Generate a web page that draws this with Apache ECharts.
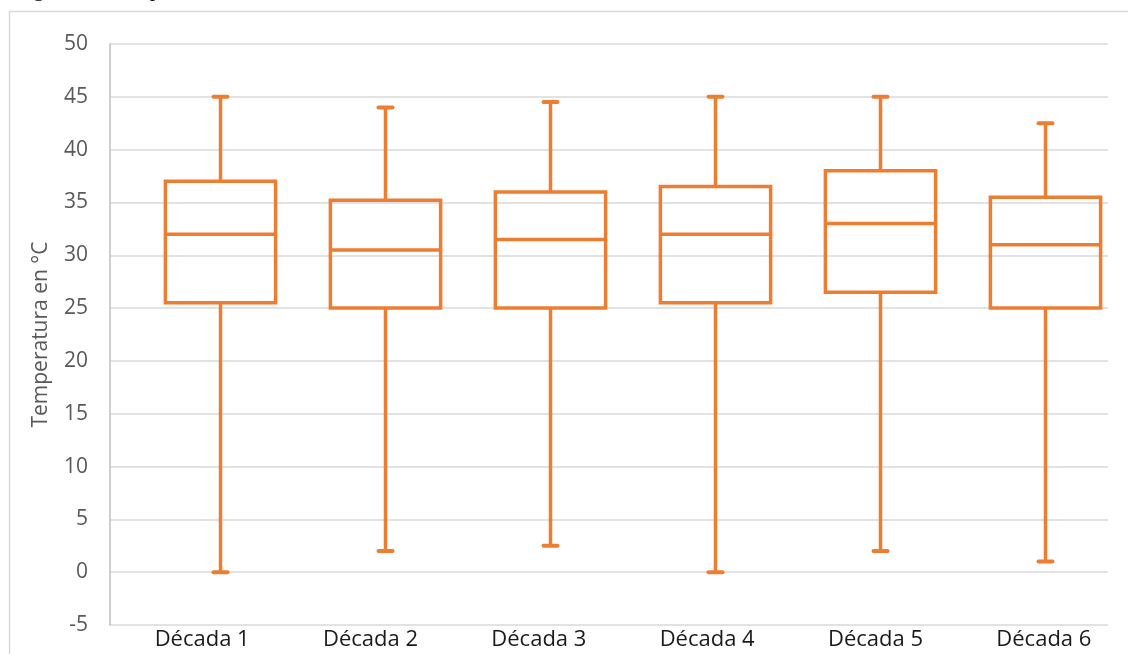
<!DOCTYPE html>
<html>
<head>
<meta charset="utf-8">
<script src="https://cdn.jsdelivr.net/npm/echarts@6/dist/echarts.min.js"></script>
<style>
  html, body { margin: 0; padding: 0; background: #ffffff; }
  #chart { width: 1128px; height: 654px; }
</style>
</head>
<body>
<div id="chart"></div>
<script>
// Decades shown on the category axis
const categories = ['Década 1', 'Década 2', 'Década 3', 'Década 4', 'Década 5', 'Década 6'];
// Five-number summaries per decade (°C)
const minValues    = [0,    2,    2.5,  0,    2,    1];
const q1Values     = [25.5, 25,   25,   25.5, 26.5, 25];
const medianValues = [32,   30.5, 31.5, 32,   33,   31];
const q3Values     = [37,   35.2, 36,   36.5, 38,   35.5];
const maxValues    = [45,   44,   44.5, 45,   45,   42.5];
// Value axis range and step
const yMin = -5, yMax = 50, yStep = 5;

const ORANGE = '#ED7D31';
const TEXT = '#595959';
const FONT = '"Open Sans", "Noto Sans", sans-serif';

const boxData = categories.map((c, i) => [i, minValues[i], q1Values[i], medianValues[i], q3Values[i], maxValues[i]]);

function renderBox(params, api) {
  const idx = api.value(0);
  const lo = api.coord([idx, api.value(1)]);
  const q1 = api.coord([idx, api.value(2)]);
  const md = api.coord([idx, api.value(3)]);
  const q3 = api.coord([idx, api.value(4)]);
  const hi = api.coord([idx, api.value(5)]);
  const band = api.size([1, 0])[0];
  const half = band * 0.334;
  const x = lo[0];
  const capHalf = 7;
  const line = { stroke: ORANGE, lineWidth: 3.5, fill: null };
  const cap = { stroke: ORANGE, lineWidth: 4, lineCap: 'round' };
  return {
    type: 'group',
    children: [
      { type: 'line', shape: { x1: x, y1: q1[1], x2: x, y2: lo[1] }, style: line },
      { type: 'line', shape: { x1: x, y1: q3[1], x2: x, y2: hi[1] }, style: line },
      { type: 'line', shape: { x1: x - capHalf, y1: lo[1], x2: x + capHalf, y2: lo[1] }, style: cap },
      { type: 'line', shape: { x1: x - capHalf, y1: hi[1], x2: x + capHalf, y2: hi[1] }, style: cap },
      { type: 'rect', shape: { x: x - half, y: q3[1], width: half * 2, height: q1[1] - q3[1] }, style: line },
      { type: 'line', shape: { x1: x - half, y1: md[1], x2: x + half, y2: md[1] }, style: line }
    ]
  };
}

const chart = echarts.init(document.getElementById('chart'), null, { renderer: 'canvas' });
chart.setOption({
  backgroundColor: '#ffffff',
  animation: false,
  graphic: [
    { type: 'rect', silent: true, z: -10,
      shape: { x: 9.5, y: 11.5, width: 1140, height: 660 },
      style: { fill: null, stroke: '#d9d9d9', lineWidth: 1.5 } },
    { type: 'text', silent: true, left: 15, top: -21,
      style: { text: 'Figura 12. Temperatura', font: '22px "Liberation Serif", serif', fill: '#000000' } }
  ],
  grid: [
    { left: 110, width: 998, top: 44, bottom: 29 },
    { left: 138, width: 998, top: 44, bottom: 29 },
    { left: 118, width: 1020, top: 44, bottom: 29 }
  ],
  xAxis: [
    { type: 'category', gridIndex: 0, data: categories, show: false },
    { type: 'category', gridIndex: 1, data: categories, show: false },
    { type: 'category', gridIndex: 2, data: categories,
      axisLine: { show: false }, axisTick: { show: false },
      axisLabel: { color: '#1a1a1a', fontFamily: FONT, fontSize: 22, margin: 4, interval: 0 } }
  ],
  yAxis: [
    { type: 'value', gridIndex: 0, min: yMin, max: yMax, interval: yStep,
      name: 'Temperatura en °C', nameLocation: 'middle', nameGap: 58, nameRotate: 90,
      nameTextStyle: { color: TEXT, fontFamily: FONT, fontSize: 21 },
      axisLine: { show: true, lineStyle: { color: '#bfbfbf', width: 1.5 } },
      axisTick: { show: false },
      axisLabel: { color: TEXT, fontFamily: FONT, fontSize: 21, margin: 22 },
      splitLine: { show: true, lineStyle: { color: '#d9d9d9', width: 1.5 } } },
    { type: 'value', gridIndex: 1, min: yMin, max: yMax, interval: yStep, show: false,
      splitLine: { show: false } },
    { type: 'value', gridIndex: 2, min: yMin, max: yMax, interval: yStep, show: false,
      splitLine: { show: false } }
  ],
  series: [{
    type: 'custom',
    xAxisIndex: 1,
    yAxisIndex: 1,
    data: boxData,
    encode: { x: 0, y: [1, 2, 3, 4, 5] },
    renderItem: renderBox,
    clip: false
  }]
});
</script>
</body>
</html>
